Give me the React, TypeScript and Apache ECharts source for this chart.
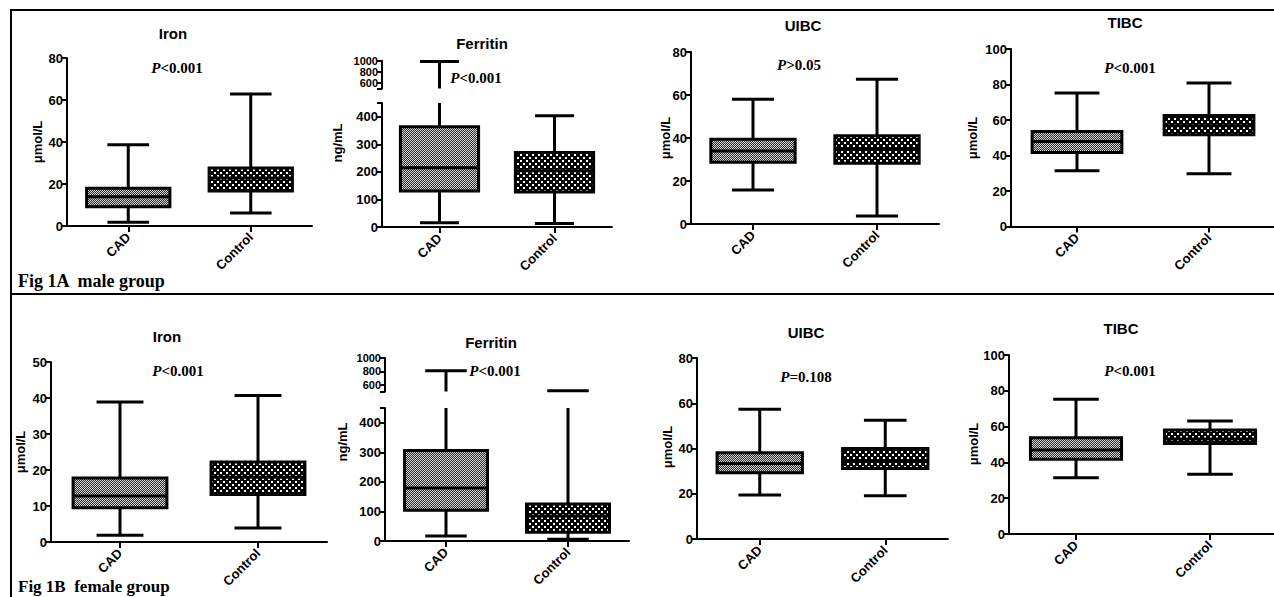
import React, { useEffect, useRef } from 'react';
import * as echarts from 'echarts';

const SANS = "'Liberation Sans', Arial, Helvetica, sans-serif";
const SERIF = "'Liberation Serif', 'Times New Roman', serif";

const categories = ['CAD', 'Control'];

// five-number summaries: [min, Q1, median, Q3, max]
const maleIronCAD = [1.8, 9.2, 13.9, 18.0, 38.7];
const maleIronControl = [6.2, 16.7, 22.8, 27.6, 62.9];
const maleFerritinCAD = [15, 131, 215, 364, 990];
const maleFerritinControl = [13, 127, 204, 270, 404];
const maleUibcCAD = [15.8, 28.7, 34.0, 39.4, 58.0];
const maleUibcControl = [3.7, 28.2, 34.9, 41.0, 67.3];
const maleTibcCAD = [31.4, 41.7, 47.9, 53.5, 75.2];
const maleTibcControl = [29.7, 51.7, 56.7, 62.5, 80.8];
const femaleIronCAD = [1.9, 9.5, 12.8, 17.8, 38.9];
const femaleIronControl = [3.9, 13.2, 18.0, 22.2, 40.7];
const femaleFerritinCAD = [17, 104, 179, 306, 810];
const femaleFerritinControl = [6, 30, 85, 125, 510];
const femaleUibcCAD = [19.4, 29.3, 33.4, 38.1, 57.4];
const femaleUibcControl = [19.1, 31.2, 34.6, 40.0, 52.5];
const femaleTibcCAD = [31.4, 41.8, 46.9, 53.8, 75.3];
const femaleTibcControl = [33.4, 50.6, 53.1, 58.1, 63.1];

const panelTitles = ['Iron', 'Ferritin', 'UIBC', 'TIBC', 'Iron', 'Ferritin', 'UIBC', 'TIBC'];
const pValues = ['<0.001', '<0.001', '>0.05', '<0.001', '<0.001', '<0.001', '=0.108', '<0.001'];
const yUnits = ['μmol/L', 'ng/mL', 'μmol/L', 'μmol/L', 'μmol/L', 'ng/mL', 'μmol/L', 'μmol/L'];
const figLabels = ['Fig 1A  male group', 'Fig 1B  female group'];

// tick labels
const ironMaleTicks = [0, 20, 40, 60, 80];
const ironFemaleTicks = [0, 10, 20, 30, 40, 50];
const uibcTicks = [0, 20, 40, 60, 80];
const tibcTicks = [0, 20, 40, 60, 80, 100];
const ferritinLowTicks = [0, 100, 200, 300, 400];
const ferritinHighTicks = [600, 800, 1000];
const ferritinBreak = [450, 500];

const panelData = [
  [maleIronCAD, maleIronControl],
  [maleFerritinCAD, maleFerritinControl],
  [maleUibcCAD, maleUibcControl],
  [maleTibcCAD, maleTibcControl],
  [femaleIronCAD, femaleIronControl],
  [femaleFerritinCAD, femaleFerritinControl],
  [femaleUibcCAD, femaleUibcControl],
  [femaleTibcCAD, femaleTibcControl],
];
const panelTicks = [ironMaleTicks, ferritinLowTicks, uibcTicks, tibcTicks, ironFemaleTicks, ferritinLowTicks, uibcTicks, tibcTicks];

// layout (pixels)
const layout = [
  { left: 67, width: 245, top: 58, height: 168, tx: 173, ty: 33, px: 177, py: 68, ux: 37, uy: 142 },
  { left: 382, width: 230, top: 103, height: 124, upTop: 61, upH: 27.5, tx: 482, ty: 43, px: 476, py: 78, ux: 337, uy: 143 },
  { left: 691, width: 248, top: 52, height: 172, tx: 803, ty: 25, px: 799, py: 65, ux: 665, uy: 138 },
  { left: 1011, width: 264, top: 49, height: 177.5, tx: 1125, ty: 22, px: 1130, py: 68, ux: 972, uy: 138 },
  { left: 51, width: 276, top: 362, height: 180, tx: 167, ty: 336, px: 178, py: 371, ux: 20, uy: 452 },
  { left: 385, width: 244, top: 408, height: 133, upTop: 358, upH: 33.5, tx: 491, ty: 342, px: 495, py: 371, ux: 342, uy: 442 },
  { left: 697, width: 251, top: 358, height: 181, tx: 806, ty: 332, px: 806, py: 377, ux: 667, uy: 447 },
  { left: 1009, width: 268, top: 355, height: 179, tx: 1121, ty: 328, px: 1130, py: 371, ux: 973, uy: 444 },
];

function makePattern(kind: 'fine' | 'coarse') {
  const c = document.createElement('canvas');
  if (kind === 'fine') {
    c.width = 4; c.height = 4;
    const g = c.getContext('2d')!;
    g.fillStyle = '#333'; g.fillRect(0, 0, 4, 4);
    g.fillStyle = '#cfcfcf';
    for (let y = 0; y < 4; y++) for (let x = 0; x < 4; x++) if ((x + y) % 2 === 0) g.fillRect(x, y, 1, 1);
    return { image: c.toDataURL(), repeat: 'repeat', imageWidth: 4, imageHeight: 4 };
  }
  c.width = 6; c.height = 6;
  const g = c.getContext('2d')!;
  g.fillStyle = '#000'; g.fillRect(0, 0, 6, 6);
  g.fillStyle = '#fff';
  g.fillRect(1, 1, 2, 2);
  g.fillRect(4, 4, 2, 2);
  return { image: c.toDataURL(), repeat: 'repeat', imageWidth: 6, imageHeight: 6 };
}

function makeRenderItem(lo: number, hi: number, fills: any[]) {
  return (params: any, api: any) => {
    const idx = api.value(0);
    const mn = api.value(1), q1 = api.value(2), md = api.value(3), q3 = api.value(4), mx = api.value(5);
    const band = api.size([1, 0])[0];
    const bw = band * 0.68;
    const cw = bw * 0.5;
    const cx = api.coord([idx, lo])[0];
    const yy = (v: number) => api.coord([idx, Math.min(Math.max(v, lo), hi)])[1];
    const ls = { stroke: '#000', lineWidth: 3 };
    const children: any[] = [];
    if (mx > lo && q3 < hi) children.push({ type: 'line', shape: { x1: cx, y1: yy(q3), x2: cx, y2: yy(mx) }, style: ls });
    if (mx >= lo && mx <= hi) children.push({ type: 'line', shape: { x1: cx - cw / 2, y1: yy(mx), x2: cx + cw / 2, y2: yy(mx) }, style: ls });
    if (mn < hi && q1 > lo) children.push({ type: 'line', shape: { x1: cx, y1: yy(mn), x2: cx, y2: yy(q1) }, style: ls });
    if (mn >= lo && mn <= hi) children.push({ type: 'line', shape: { x1: cx - cw / 2, y1: yy(mn), x2: cx + cw / 2, y2: yy(mn) }, style: ls });
    if (q3 > lo && q1 < hi) {
      const top = yy(q3), bot = yy(q1);
      children.push({ type: 'rect', shape: { x: cx - bw / 2, y: top, width: bw, height: bot - top }, style: { fill: fills[params.dataIndex], stroke: '#000', lineWidth: 3 } });
      if (md >= lo && md <= hi) children.push({ type: 'line', shape: { x1: cx - bw / 2, y1: yy(md), x2: cx + bw / 2, y2: yy(md) }, style: ls });
    }
    return { type: 'group', children };
  };
}

function buildOption() {
  const fills = [makePattern('fine'), makePattern('coarse')];
  const grid: any[] = [];
  const xAxis: any[] = [];
  const yAxis: any[] = [];
  const series: any[] = [];
  const graphic: any[] = [];
  const axisLineStyle = { color: '#000', width: 2 };
  const labelStyle = { color: '#000', fontWeight: 'bold', fontFamily: SANS };
  const plain = (v: number) => String(v);

  panelData.forEach((pair, p) => {
    const L: any = layout[p];
    const ticks = panelTicks[p];
    const isFerritin = L.upTop !== undefined;
    const data = pair.map((v, i) => [i, ...v]);
    const gi = grid.length;
    grid.push({ left: L.left, top: L.top, width: L.width, height: L.height, containLabel: false, outerBoundsMode: 'none' });
    xAxis.push({
      gridIndex: gi, type: 'category', data: categories, boundaryGap: true,
      axisLine: { show: true, lineStyle: axisLineStyle },
      axisTick: { show: true, alignWithLabel: true, length: 6, lineStyle: axisLineStyle },
      axisLabel: { ...labelStyle, rotate: 45, fontSize: 13, margin: 9 },
      splitLine: { show: false },
    });
    const lo = ticks[0];
    const hi = isFerritin ? ferritinBreak[0] : ticks[ticks.length - 1];
    yAxis.push({
      gridIndex: gi, type: 'value', min: lo, max: hi,
      axisLine: { show: true, lineStyle: axisLineStyle },
      axisTick: { show: true, length: 5, lineStyle: axisLineStyle, customValues: isFerritin ? [...ticks, hi] : ticks },
      axisLabel: { ...labelStyle, fontSize: 13, margin: 4, customValues: ticks, formatter: plain },
      splitLine: { show: false },
    });
    series.push({
      type: 'custom', xAxisIndex: gi, yAxisIndex: gi, data,
      encode: { x: 0, y: [1, 2, 3, 4, 5] },
      renderItem: makeRenderItem(lo, hi, fills), clip: false,
    });
    if (isFerritin) {
      const ui = grid.length;
      const ulo = ferritinBreak[1];
      const uhi = ferritinHighTicks[ferritinHighTicks.length - 1];
      grid.push({ left: L.left, top: L.upTop, width: L.width, height: L.upH, containLabel: false, outerBoundsMode: 'none' });
      xAxis.push({ gridIndex: ui, type: 'category', data: categories, boundaryGap: true, show: false });
      yAxis.push({
        gridIndex: ui, type: 'value', min: ulo, max: uhi,
        axisLine: { show: true, lineStyle: axisLineStyle },
        axisTick: { show: true, length: 5, lineStyle: axisLineStyle, customValues: [ulo, ...ferritinHighTicks] },
        axisLabel: { ...labelStyle, fontSize: 11, margin: 4, customValues: ferritinHighTicks, formatter: plain },
        splitLine: { show: false },
      });
      series.push({
        type: 'custom', xAxisIndex: ui, yAxisIndex: ui, data,
        encode: { x: 0, y: [1, 2, 3, 4, 5] },
        renderItem: makeRenderItem(ulo, uhi, fills), clip: false,
      });
    }
    graphic.push({
      type: 'text', x: L.tx, y: L.ty,
      style: { text: panelTitles[p], fill: '#000', font: `bold 15px ${SANS}`, align: 'center', verticalAlign: 'middle', textAlign: 'center', textVerticalAlign: 'middle' },
    });
    graphic.push({
      type: 'text', x: L.px, y: L.py,
      style: {
        text: `{i|P}{n|${pValues[p]}}`, align: 'center', verticalAlign: 'middle', textAlign: 'center', textVerticalAlign: 'middle',
        rich: {
          i: { fontFamily: SERIF, fontSize: 15, fontWeight: 'bold', fontStyle: 'italic', fill: '#000', color: '#000' },
          n: { fontFamily: SERIF, fontSize: 15, fontWeight: 'bold', fill: '#000', color: '#000' },
        },
      },
    });
    graphic.push({
      type: 'text', x: L.ux, y: L.uy, rotation: Math.PI / 2,
      style: { text: yUnits[p], fill: '#000', font: `bold 13px ${SANS}`, align: 'center', verticalAlign: 'middle', textAlign: 'center', textVerticalAlign: 'middle' },
    });
  });

  const frame = { stroke: '#000', lineWidth: 2 };
  graphic.push({ type: 'line', shape: { x1: 10, y1: 10, x2: 1274, y2: 10 }, style: frame });
  graphic.push({ type: 'line', shape: { x1: 11, y1: 10, x2: 11, y2: 597 }, style: frame });
  graphic.push({ type: 'line', shape: { x1: 11, y1: 294, x2: 1274, y2: 294 }, style: frame });
  graphic.push({ type: 'text', x: 18, y: 281, style: { text: figLabels[0], fill: '#000', font: `bold 18px ${SERIF}`, align: 'left', verticalAlign: 'middle', textVerticalAlign: 'middle' } });
  graphic.push({ type: 'text', x: 18, y: 586, style: { text: figLabels[1], fill: '#000', font: `bold 17px ${SERIF}`, align: 'left', verticalAlign: 'middle', textVerticalAlign: 'middle' } });

  return {
    animation: false,
    backgroundColor: '#fff',
    grid, xAxis, yAxis, series,
    graphic: { elements: graphic },
  };
}

export default function App() {
  const ref = useRef<HTMLDivElement>(null);
  useEffect(() => {
    if (!ref.current) return;
    const chart = echarts.init(ref.current, null, { renderer: 'svg' });
    chart.setOption(buildOption() as any);
    return () => chart.dispose();
  }, []);
  return <div ref={ref} style={{ position: 'absolute', left: 0, top: 0, width: 1274, height: 597 }} />;
}
